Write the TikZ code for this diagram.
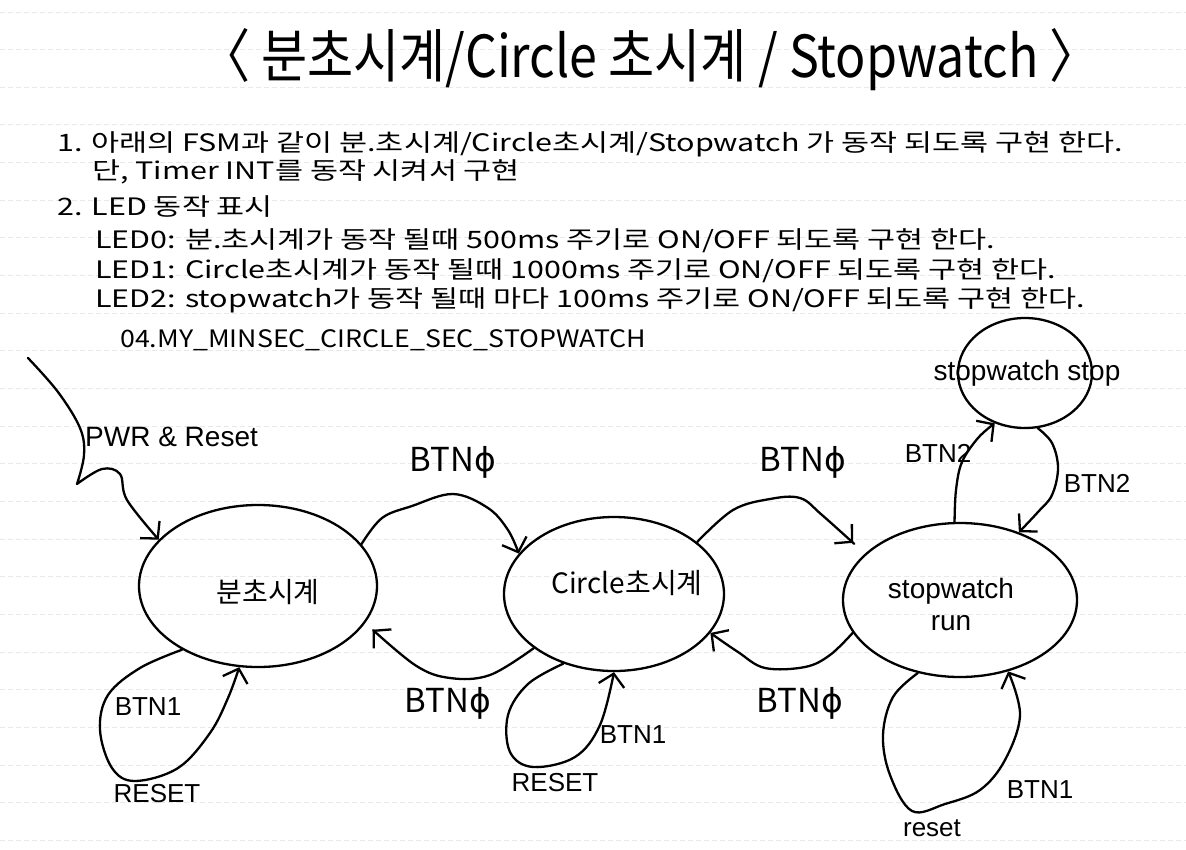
\documentclass[tikz,border=0pt]{standalone}
\usepackage{fontspec}
\usepackage{graphicx}
\setmainfont{Noto Sans CJK KR}
\newfontfamily\libsans{Liberation Sans}
\newfontfamily\dejavu{DejaVu Sans}
\usetikzlibrary{shapes.geometric,arrows.meta}
\newcommand\hstretch[2]{\scalebox{#1}[1]{#2}}
\newcommand\phisym{{\dejavu ϕ}}
\begin{document}
\begin{tikzpicture}[x=1pt,y=-1pt,
  rule/.style={draw=black!9, line width=1pt, dash pattern=on 5pt off 3pt},
  state/.style={draw, ellipse, line width=2.3pt, inner sep=0pt},
  conn/.style={draw, line width=2.3pt, line cap=round, line join=round, -{Straight Barb[length=12pt,width=26pt]}},
  typed/.style={font=\fontsize{24}{28}\selectfont, inner sep=0pt, anchor=west},
  lbl/.style={font=\libsans\fontsize{26}{30}\selectfont, inner sep=0pt},
  stlbl/.style={font=\fontsize{28}{34}\selectfont, inner sep=0pt, align=center},
  hw/.style={font=\fontsize{33}{36}\selectfont, inner sep=0pt}]
\useasboundingbox (0,0) rectangle (1186,849);
\fill[white] (0,0) rectangle (1186,849);
\foreach \k in {0,...,22} \draw[rule] (0,12+37.65*\k) -- (1186,12+37.65*\k);

% title
\node[inner sep=0pt] (title) at (650,60) {\resizebox{900pt}{\height}{\fontsize{58}{64}\selectfont 〈 분초시계/Circle 초시계 / Stopwatch 〉}};

% typed text
\node[typed] (t1) at (57,144) {\hstretch{1.27}{1. 아래의 FSM과 같이 분.초시계/Circle초시계/Stopwatch 가 동작 되도록 구현 한다.}};
\node[typed] (t2) at (92,172) {\hstretch{1.27}{단, Timer INT를 동작 시켜서 구현}};
\node[typed] (t3) at (57,207) {\hstretch{1.27}{2. LED 동작 표시}};
\node[typed] (t4) at (95,241) {\hstretch{1.27}{LED0: 분.초시계가 동작 될때 500ms 주기로 ON/OFF 되도록 구현 한다.}};
\node[typed] (t5) at (95,271) {\hstretch{1.27}{LED1: Circle초시계가 동작 될때 1000ms 주기로 ON/OFF 되도록 구현 한다.}};
\node[typed] (t6) at (95,300) {\hstretch{1.27}{LED2: stopwatch가 동작 될때 마다 100ms 주기로 ON/OFF 되도록 구현 한다.}};
\node[typed] (t7) at (120,340) {\resizebox{526pt}{\height}{04.MY\_MINSEC\_CIRCLE\_SEC\_STOPWATCH}};

% states
\node[state, minimum width=238pt, minimum height=162pt,
      label={[stlbl, xshift=10pt, yshift=-6pt]center:분초시계}] (a) at (258,586) {};
\node[state, minimum width=220pt, minimum height=154pt,
      label={[stlbl, xshift=13pt, yshift=11pt]center:Circle초시계}] (b) at (614,594) {};
\node[state, minimum width=234pt, minimum height=154pt,
      label={[stlbl, font=\libsans\fontsize{28}{32}\selectfont, xshift=-9pt, yshift=-4pt]center:stopwatch\\run}] (c) at (960,600) {};
\node[state, minimum width=134pt, minimum height=110pt,
      label={[stlbl, font=\libsans\fontsize{28}{32}\selectfont, xshift=2pt]center:stopwatch stop}] (d) at (1025,373) {};

% initial arrow
\coordinate (init) at (28,358);
\draw[conn] plot[smooth,tension=0.6] coordinates {(init) (58,392) (80,428) (84,455) (77,484)}
  -- plot[smooth,tension=0.6] coordinates {(77,484) (102,469) (120,474) (127,500) (a.155)};
\node[lbl, anchor=west, font=\libsans\fontsize{28}{32}\selectfont] (pwr) at (85,437) {PWR \& Reset};

% transitions between states
\draw[conn] plot[smooth,tension=0.6] coordinates {(a.22) (382,518) (412,506) (453,494) (488,508) (508,530) (b.157)};
\draw[conn, shorten >=16pt] plot[smooth,tension=0.6] coordinates {(b.32) (733,510) (770,499) (800,498) (822,515) (c.154)};
\draw[conn, shorten >=10pt] plot[smooth,tension=0.6] coordinates {(b.-146) (490,675) (450,678) (415,665) (a.-19)};
\draw[conn] plot[smooth,tension=0.6] coordinates {(c.-163) (830,655) (805,667) (765,668) (738,652) (b.-22)};

% self loops
\draw[conn] plot[smooth,tension=0.6] coordinates {(a.-140) (140,668) (108,695) (100,730) (112,768) (135,781) (178,768) (210,733) (228,698) (a.-103)};
\draw[conn] plot[smooth,tension=0.6] coordinates {(b.-126) (528,684) (508,715) (510,752) (533,767) (575,757) (600,725) (b.-90)};
\draw[conn] plot[smooth,tension=0.6] coordinates {(c.-120) (893,697) (883,735) (890,775) (912,811) (945,804) (980,790) (1005,760) (1020,715) (c.-56)};

% run <-> stop
\draw[conn] plot[smooth,tension=0.6] coordinates {(c.94) (956,490) (962,462) (978,438) (d.-121)};
\draw[conn] plot[smooth,tension=0.6] coordinates {(d.-77) (1052,443) (1058,468) (1052,495) (1038,512) (c.49)};

% labels
\node[hw] (h1) at (453,462) {BTN\phisym};
\node[hw] (h2) at (803,462) {BTN\phisym};
\node[hw] (h3) at (448,703) {BTN\phisym};
\node[hw] (h4) at (800,703) {BTN\phisym};
\node[lbl] (l1) at (148,707) {BTN1};
\node[lbl] (l2) at (157,794) {RESET};
\node[lbl] (l3) at (633,735) {BTN1};
\node[lbl] (l4) at (555,783) {RESET};
\node[lbl] (l5) at (1040,790) {BTN1};
\node[lbl] (l6) at (932,828) {reset};
\node[lbl] (l7) at (938,453) {BTN2};
\node[lbl] (l8) at (1097,483) {BTN2};
\end{tikzpicture}
\end{document}
